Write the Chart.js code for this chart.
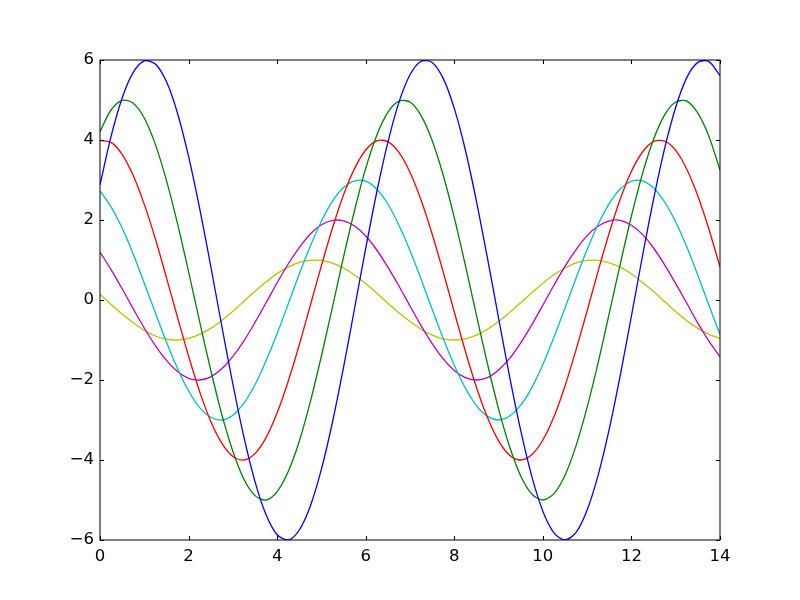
<!DOCTYPE html>
<html>
<head>
<meta charset="utf-8">
<script src="https://cdn.jsdelivr.net/npm/chart.js@4/dist/chart.umd.min.js"></script>
<style>
  html, body { margin: 0; padding: 0; background: #fff; }
  canvas { display: block; }
</style>
</head>
<body>
<canvas id="chart" width="800" height="600"></canvas>
<script>
// x positions (step 0.25) and the six curves
var xs = [0, 0.25, 0.5, 0.75, 1, 1.25, 1.5, 1.75, 2, 2.25, 2.5, 2.75, 3, 3.25, 3.5, 3.75,
          4, 4.25, 4.5, 4.75, 5, 5.25, 5.5, 5.75, 6, 6.25, 6.5, 6.75, 7, 7.25, 7.5, 7.75,
          8, 8.25, 8.5, 8.75, 9, 9.25, 9.5, 9.75, 10, 10.25, 10.5, 10.75, 11, 11.25, 11.5, 11.75,
          12, 12.25, 12.5, 12.75, 13, 13.25, 13.5, 13.75, 14];

var blue = [2.88, 4.09, 5.05, 5.69, 5.98, 5.90, 5.46, 4.67, 3.59, 2.29, 0.85, -0.65, -2.10, -3.43, -4.54, -5.37,
            -5.87, -6.00, -5.75, -5.15, -4.23, -3.05, -1.68, -0.20, 1.29, 2.70, 3.94, 4.94, 5.63, 5.97, 5.94, 5.54,
            4.79, 3.75, 2.47, 1.04, -0.45, -1.92, -3.26, -4.41, -5.28, -5.82, -6.00, -5.81, -5.25, -4.37, -3.22, -1.87,
            -0.40, 1.10, 2.52, 3.79, 4.82, 5.56, 5.94, 5.96, 5.61];
var green = [4.21, 4.75, 4.99, 4.92, 4.55, 3.89, 2.99, 1.91, 0.71, -0.54, -1.75, -2.86, -3.78, -4.48, -4.89, -5.00,
             -4.79, -4.29, -3.53, -2.54, -1.40, -0.17, 1.08, 2.25, 3.29, 4.12, 4.69, 4.97, 4.95, 4.61, 3.99, 3.12,
             2.06, 0.87, -0.38, -1.60, -2.72, -3.67, -4.40, -4.85, -5.00, -4.84, -4.38, -3.64, -2.68, -1.56, -0.33, 0.91,
             2.10, 3.16, 4.02, 4.63, 4.95, 4.97, 4.67, 4.09, 3.25];
var red = [3.99, 3.94, 3.64, 3.11, 2.39, 1.53, 0.56, -0.43, -1.40, -2.29, -3.03, -3.58, -3.91, -4.00, -3.84, -3.44,
           -2.82, -2.03, -1.12, -0.13, 0.86, 1.80, 2.63, 3.29, 3.75, 3.98, 3.96, 3.69, 3.19, 2.50, 1.65, 0.70,
           -0.30, -1.28, -2.18, -2.94, -3.52, -3.88, -4.00, -3.87, -3.50, -2.92, -2.15, -1.24, -0.27, 0.73, 1.68, 2.53,
           3.22, 3.70, 3.96, 3.97, 3.74, 3.27, 2.60, 1.77, 0.83];
var cyan = [2.73, 2.33, 1.80, 1.15, 0.42, -0.32, -1.05, -1.71, -2.27, -2.69, -2.93, -3.00, -2.88, -2.58, -2.12, -1.52,
            -0.84, -0.10, 0.65, 1.35, 1.97, 2.47, 2.81, 2.98, 2.97, 2.77, 2.40, 1.87, 1.24, 0.52, -0.23, -0.96,
            -1.63, -2.20, -2.64, -2.91, -3.00, -2.90, -2.63, -2.19, -1.61, -0.93, -0.20, 0.55, 1.26, 1.90, 2.41, 2.78,
            2.97, 2.98, 2.80, 2.45, 1.95, 1.33, 0.62, -0.13, -0.86];
var magenta = [1.20, 0.76, 0.28, -0.22, -0.70, -1.14, -1.51, -1.79, -1.96, -2.00, -1.92, -1.72, -1.41, -1.02, -0.56, -0.07,
               0.43, 0.90, 1.31, 1.65, 1.88, 1.99, 1.98, 1.85, 1.60, 1.25, 0.82, 0.35, -0.15, -0.64, -1.09, -1.47,
               -1.76, -1.94, -2.00, -1.94, -1.75, -1.46, -1.07, -0.62, -0.13, 0.37, 0.84, 1.26, 1.61, 1.85, 1.98, 1.99,
               1.87, 1.64, 1.30, 0.88, 0.41, -0.08, -0.58, -1.03, -1.42];
var yellow = [0.14, -0.11, -0.35, -0.57, -0.76, -0.90, -0.98, -1.00, -0.96, -0.86, -0.71, -0.51, -0.28, -0.03, 0.22, 0.45,
              0.66, 0.82, 0.94, 0.99, 0.99, 0.92, 0.80, 0.62, 0.41, 0.17, -0.08, -0.32, -0.54, -0.73, -0.88, -0.97,
              -1.00, -0.97, -0.88, -0.73, -0.54, -0.31, -0.07, 0.18, 0.42, 0.63, 0.80, 0.93, 0.99, 0.99, 0.93, 0.82,
              0.65, 0.44, 0.21, -0.04, -0.29, -0.52, -0.71, -0.86, -0.96];

var series = [blue, green, red, cyan, magenta, yellow];
var colors = ['#0000ff', '#008000', '#ff0000', '#00bfbf', '#bf00bf', '#bfbf00'];

var xTicks = [0, 2, 4, 6, 8, 10, 12, 14];
var yTicks = [-6, -4, -2, 0, 2, 4, 6];

function toPoints(ys) {
    var pts = [];
    for (var i = 0; i < xs.length; i++) {
        pts.push({x: xs[i], y: ys[i]});
    }
    return pts;
}

var datasets = [];
for (var i = 0; i < series.length; i++) {
    datasets.push({
        data: toPoints(series[i]),
        borderColor: colors[i],
        borderWidth: 1.3,
        pointRadius: 0,
        tension: 0.3,
        fill: false
    });
}

function minus(v) {
    return String(v).replace('-', '\u2212');
}

// black frame + inward ticks on all four sides, like the classic style
var frame = {
    id: 'frame',
    afterDraw: function (chart) {
        var ctx = chart.ctx;
        var a = chart.chartArea;
        var sx = chart.scales.x, sy = chart.scales.y;
        ctx.save();
        ctx.strokeStyle = '#000';
        ctx.lineWidth = 1;
        ctx.beginPath();
        xTicks.forEach(function (v) {
            var px = Math.round(sx.getPixelForValue(v)) + 0.5;
            ctx.moveTo(px, a.bottom); ctx.lineTo(px, a.bottom - 4);
            ctx.moveTo(px, a.top); ctx.lineTo(px, a.top + 4);
        });
        yTicks.forEach(function (v) {
            var py = Math.round(sy.getPixelForValue(v)) + 0.5;
            ctx.moveTo(a.left, py); ctx.lineTo(a.left + 4, py);
            ctx.moveTo(a.right, py); ctx.lineTo(a.right - 4, py);
        });
        ctx.stroke();
        ctx.strokeRect(a.left, a.top, a.right - a.left, a.bottom - a.top);
        ctx.restore();
    }
};

new Chart(document.getElementById('chart'), {
    type: 'scatter',
    data: { datasets: datasets },
    options: {
        responsive: false,
        animation: false,
        showLine: true,
        layout: { padding: { left: 0, top: 60, right: 80, bottom: 0 } },
        plugins: { legend: { display: false }, tooltip: { enabled: false } },
        scales: {
            x: {
                type: 'linear',
                min: 0, max: 14,
                afterFit: function (s) { s.height = 60; },
                afterBuildTicks: function (s) { s.ticks = xTicks.map(function (v) { return {value: v}; }); },
                grid: { display: false, drawTicks: false },
                border: { display: false },
                ticks: {
                    padding: 7,
                    color: '#000',
                    font: { family: 'DejaVu Sans', size: 16.5 },
                    callback: function (v) { return minus(v); }
                }
            },
            y: {
                type: 'linear',
                min: -6, max: 6,
                afterFit: function (s) { s.width = 100; },
                afterBuildTicks: function (s) { s.ticks = yTicks.map(function (v) { return {value: v}; }); },
                grid: { display: false, drawTicks: false },
                border: { display: false },
                ticks: {
                    padding: 6,
                    color: '#000',
                    font: { family: 'DejaVu Sans', size: 16.5 },
                    callback: function (v) { return minus(v); }
                }
            }
        }
    },
    plugins: [frame]
});
</script>
</body>
</html>
